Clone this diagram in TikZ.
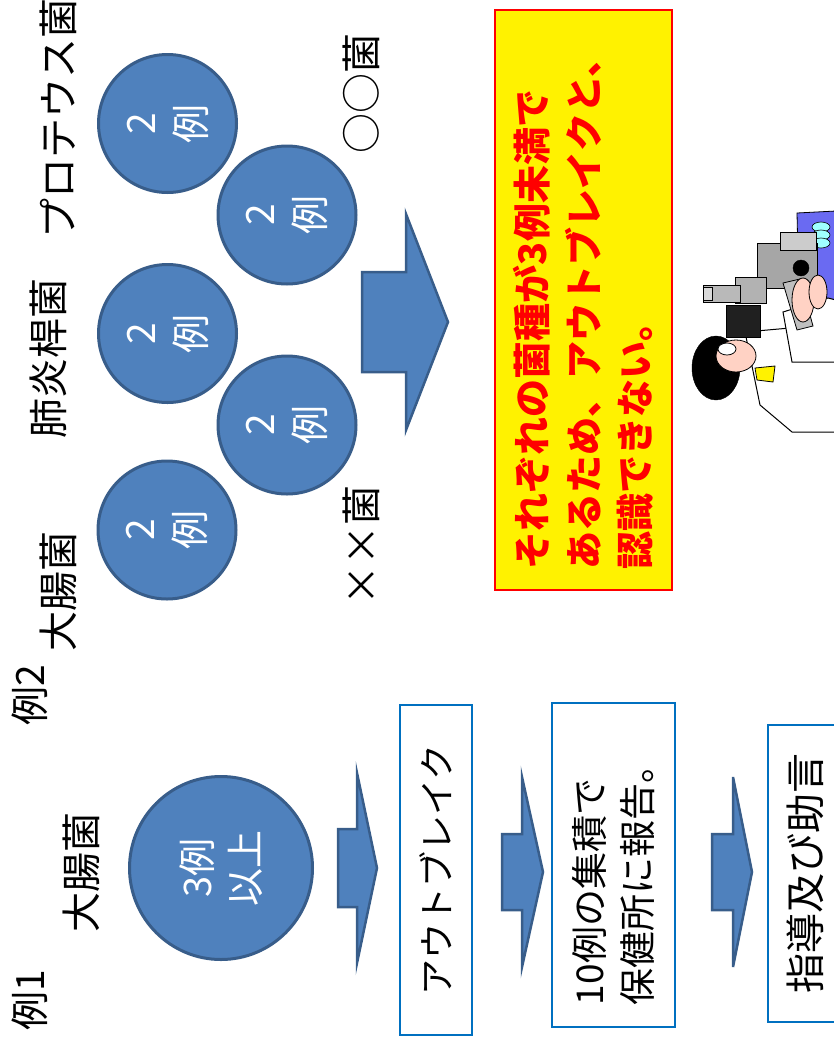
\documentclass[tikz,border=0pt]{standalone}
\usepackage{fontspec}
\setmainfont{Noto Sans CJK JP}
\usetikzlibrary{positioning}

\definecolor{ballfill}{HTML}{4F81BD}
\definecolor{ballline}{HTML}{385D8A}
\definecolor{boxline}{HTML}{0070C0}
\definecolor{skin}{HTML}{FFD2C4}
\definecolor{panel}{HTML}{6A6AF2}
\definecolor{dish}{HTML}{9FFFFF}

\begin{document}
\begin{tikzpicture}[x=1pt, y=-1pt,
    lbl/.style={rotate=90, inner sep=0pt, font=\fontsize{40}{44}\selectfont},
    ball/.style={circle, draw=ballline, fill=ballfill, line width=3pt,
      minimum size=138pt, inner sep=0pt, text=white, align=center,
      rotate=90, font=\fontsize{39}{50}\selectfont},
    stepbox/.style={draw=boxline, line width=1.5pt, rotate=90, align=left,
      font=\fontsize{37}{48}\selectfont},
    barrow/.style={draw=ballline, fill=ballfill, line width=2.5pt, line join=miter},
    pics/fatarrow/.style n args={4}{code={
      \draw[barrow] (0,-#3) -- (#1,-#3) -- (#1,-#4) -- (#1+#2,0)
        -- (#1,#4) -- (#1,#3) -- (0,#3) -- cycle;}}]
  \useasboundingbox (0,0) rectangle (834,1039);
  \clip (0,0) rectangle (834,1039);

  % case 1: one species, three or more
  \node[lbl, font=\fontsize{39}{42}\selectfont] (ex1) at (30,1000) {例1};
  \node[lbl] (ecoliA) at (81,872) {大腸菌};
  \node[ball, minimum size=183pt, font=\fontsize{38}{48}\selectfont] (many) at (221,868) {3例\\以上};
  \pic at (338,868) {fatarrow={19}{20}{39}{95}};
  \node[stepbox, minimum width=330pt, minimum height=72pt,
        font=\fontsize{36}{40}\selectfont] (outb) at (436,870) {アウトブレイク};
  \pic at (502,872) {fatarrow={20}{21}{38}{95}};
  \node[stepbox, minimum width=324pt, minimum height=123pt,
        inner xsep=22pt, text width=280pt] (rep) at (613.5,865)
        {10例の集積で\\保健所に報告。};
  \pic at (712,872) {fatarrow={21}{19}{38}{95}};
  \node[stepbox, minimum width=297pt, minimum height=74pt,
        font=\fontsize{40}{44}\selectfont] (adv) at (805,873.5) {指導及び助言};

  % case 2: several species, two each
  \node[lbl, font=\fontsize{39}{42}\selectfont] (ex2) at (30,695) {例2};
  \node[lbl] (prot)   at (58,118) {プロテウス菌};
  \node[lbl] (pneu)   at (48,358) {肺炎桿菌};
  \node[lbl] (ecoliB) at (58,591) {大腸菌};
  \node[lbl] (oo)     at (361,93) {○○菌};
  \node[lbl] (xx)     at (361,545) {××菌};

  \node[ball] (bprot)  at (167.5,123.5) {2\\例};
  \node[ball] (boo)    at (287,215)     {2\\例};
  \node[ball] (bpneu)  at (167.5,333.5) {2\\例};
  \node[ball] (bxx)    at (287,425)     {2\\例};
  \node[ball] (becoli) at (167,530)     {2\\例};

  \pic at (362,322) {fatarrow={44}{42}{50}{108}};

  \node[rotate=90, draw=red, fill=yellow, line width=1.2pt,
        minimum width=580pt, minimum height=177pt, inner xsep=21pt,
        text width=538pt, align=left, text=red,
        font=\bfseries\fontsize{38}{51.5}\selectfont] (note) at (583.5,300)
        {それぞれの菌種が3例未満で\\あるため、アウトブレイクと、\\認識できない。};

  % microscope and examiner
  \draw[fill=panel, line width=0.8pt] (797,213) -- (836,211) -- (836,350) -- (800,347) -- cycle;
  \foreach \yy in {227,235,243}
    \draw[fill=dish, line width=0.6pt] (821,\yy) ellipse (9 and 5);
  \draw[fill=white, line width=1pt] (745,332) -- (790,328) -- (836,318) -- (836,432)
    -- (792,432) -- (760,405) -- cycle;
  \draw[fill=white, line width=1pt] (783,312) -- (828,298) -- (836,300) -- (836,362)
    -- (792,362) -- cycle;
  \draw[fill=gray!70, line width=0.8pt] (757,243) rectangle (817,288);
  \draw[fill=gray!40, line width=0.8pt] (780,232) rectangle (816,250);
  \draw[fill=gray!60, line width=0.8pt] (735,277) rectangle (766,303);
  \draw[fill=gray!55, line width=0.8pt] (703,285) rectangle (740,302);
  \draw[fill=gray!30, line width=0.8pt] (703,287) rectangle (712,300);
  \draw[fill=gray!25!black, line width=0.8pt] (726,305) rectangle (760,337);
  \draw[fill=gray!50, line width=0.8pt] (783,283) -- (800,279) -- (813,326) -- (797,330) -- cycle;
  \draw[fill=black] (801,268) circle (8);
  \draw[fill=skin, line width=0.8pt] (803,300) ellipse (11 and 22);
  \draw[fill=skin, line width=0.8pt] (818,292) ellipse (9 and 17);
  \draw[fill=black] (716,368) ellipse (24 and 32);
  \draw[fill=skin, line width=0.8pt] (736,356) ellipse (20 and 16);
  \draw[fill=white, line width=0.8pt] (727,349) ellipse (9 and 6);
  \draw[fill=yellow, line width=0.8pt] (755,368) -- (775,366) -- (773,382) -- (757,380) -- cycle;
\end{tikzpicture}
\end{document}
